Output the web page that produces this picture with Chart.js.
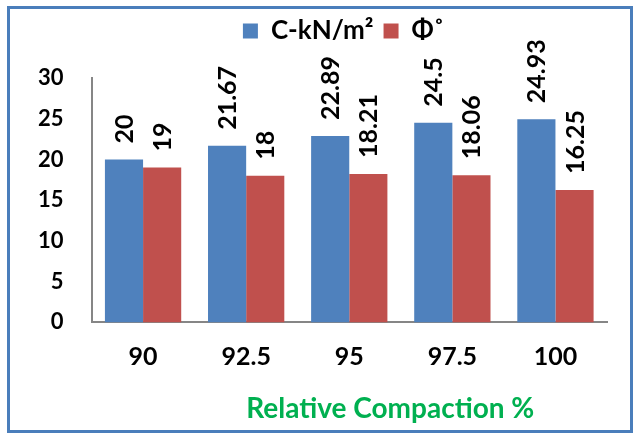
<!DOCTYPE html>
<html lang="en">
<head>
  <meta charset="UTF-8">
  <title>Relative Compaction</title>
  <script src="https://cdn.jsdelivr.net/npm/chart.js"></script>
  <style>
    html, body { margin: 0; padding: 0; background: #fff; }
    #wrap {
      position: absolute;
      left: 0; top: 0;
      width: 640px; height: 435px;
    }
    #frame {
      position: absolute;
      left: 7px; top: 6px;
      width: 620px; height: 421px;
      border: 3px solid #4A7EBB;
      pointer-events: none;
    }
  </style>
</head>
<body>
  <div id="wrap">
    <canvas id="chart" width="640" height="435"></canvas>
    <div id="frame"></div>
  </div>

  <script>
    // data
    const compaction = ['90', '92.5', '95', '97.5', '100'];
    const cohesion = [20, 21.67, 22.89, 24.5, 24.93];
    const friction = [19, 18, 18.21, 18.06, 16.25];

    const yTicks = [0, 5, 10, 15, 20, 25, 30];

    const fontName = 'Lato, "Open Sans", sans-serif';

    // rotated value labels above each bar
    const barLabels = {
      id: 'barLabels',
      afterDatasetsDraw(chart) {
        const ctx = chart.ctx;
        ctx.save();
        ctx.fillStyle = '#000';
        ctx.font = 'bold 25px ' + fontName;
        ctx.textAlign = 'left';
        ctx.textBaseline = 'middle';
        chart.data.datasets.forEach((ds, i) => {
          const meta = chart.getDatasetMeta(i);
          meta.data.forEach((bar, j) => {
            ctx.save();
            ctx.translate(bar.x + 1, bar.y - 16);
            ctx.rotate(-Math.PI / 2);
            ctx.fillText(String(ds.data[j]), 0, 0);
            ctx.restore();
          });
        });
        ctx.restore();
      }
    };

    // extra room under the legend, and nudge legend / axis title to the right
    const tweaks = {
      id: 'tweaks',
      beforeInit(chart) {
        const legend = chart.legend;
        const fit = legend.fit;
        legend.fit = function () {
          fit.call(this);
          this.height += 24;
        };
        const draw = legend.draw;
        legend.draw = function () {
          this.ctx.save();
          this.ctx.translate(35, 0);
          draw.call(this);
          this.ctx.restore();
        };
      },
      afterLayout(chart) {
        const x = chart.scales.x;
        if (x._shifted) return;
        x._shifted = true;
        const drawTitle = x.drawTitle;
        x.drawTitle = function () {
          this.ctx.save();
          this.ctx.translate(41, 0);
          drawTitle.call(this);
          this.ctx.restore();
        };
      }
    };

    const ctx = document.getElementById('chart').getContext('2d');
    new Chart(ctx, {
      type: 'bar',
      data: {
        labels: compaction,
        datasets: [
          {
            label: 'C-kN/m²',
            data: cohesion,
            backgroundColor: '#4F81BD',
            barPercentage: 1,
            categoryPercentage: 0.74
          },
          {
            label: 'Φ˚',
            data: friction,
            backgroundColor: '#C0504D',
            barPercentage: 1,
            categoryPercentage: 0.74
          }
        ]
      },
      options: {
        responsive: false,
        animation: false,
        layout: {
          padding: { left: 10, right: 33, top: 8, bottom: 9 }
        },
        plugins: {
          legend: {
            position: 'top',
            labels: {
              boxWidth: 15,
              boxHeight: 15,
              padding: 10,
              color: '#000',
              font: { family: fontName, size: 26, weight: 'bold' }
            }
          },
          tooltip: { enabled: false }
        },
        scales: {
          x: {
            grid: { display: false, drawTicks: false },
            border: { color: '#868686', width: 2 },
            ticks: {
              padding: 20,
              color: '#000',
              font: { family: fontName, size: 25, weight: 'bold' }
            },
            title: {
              display: true,
              text: 'Relative Compaction %',
              color: '#00B050',
              padding: { top: 0, bottom: 0 },
              font: { family: fontName, size: 28, weight: 'bold' }
            }
          },
          y: {
            min: 0,
            max: 30,
            afterBuildTicks(scale) {
              scale.ticks = yTicks.map(v => ({ value: v }));
            },
            grid: { display: false, drawTicks: false },
            border: { color: '#868686', width: 2 },
            ticks: {
              padding: 28,
              color: '#000',
              font: { family: fontName, size: 22, weight: 'bold' }
            }
          }
        }
      },
      plugins: [barLabels, tweaks]
    });
  </script>
</body>
</html>
